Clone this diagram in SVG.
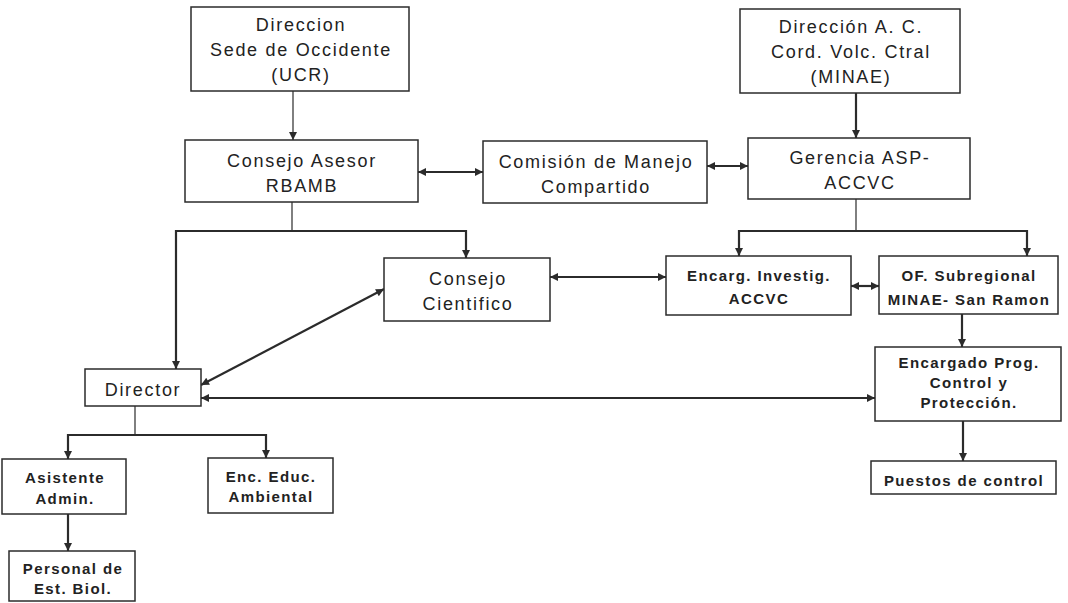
<svg xmlns="http://www.w3.org/2000/svg" width="1068" height="603" viewBox="0 0 1068 603">
<style>
.box{fill:#fff;stroke:#2b2b2b;stroke-width:1.5}
.t{font-family:"Liberation Sans",Arial,sans-serif;font-size:18px;letter-spacing:1.7px;fill:#222;text-anchor:middle}
.b{font-family:"Liberation Sans",Arial,sans-serif;font-size:15px;font-weight:bold;letter-spacing:1.4px;fill:#222;text-anchor:middle}
.c{fill:none;stroke:#2b2b2b;stroke-width:2.2}
.thin{fill:none;stroke:#2b2b2b;stroke-width:1.2}
.e{marker-end:url(#arr)}
.s{marker-start:url(#arr)}
</style>
<defs>
<marker id="arr" viewBox="0 0 10 10" refX="10" refY="5" markerWidth="9" markerHeight="8" markerUnits="userSpaceOnUse" orient="auto-start-reverse">
<path d="M0,0 L10,5 L0,10 z" fill="#2b2b2b"/>
</marker>
</defs>
<rect width="1068" height="603" fill="#fff"/>
<g id="connectors">
<line class="thin e" x1="293" y1="91" x2="293" y2="140"/>
<line class="c e" x1="856" y1="93" x2="856" y2="138"/>
<line class="c s e" x1="418" y1="172" x2="483" y2="172"/>
<line class="c s e" x1="707" y1="166" x2="748" y2="166"/>
<line class="thin" x1="292" y1="202" x2="292" y2="231"/>
<path class="c s e" d="M176,369 V231 H466 V258"/>
<line class="thin" x1="856" y1="199" x2="856" y2="231"/>
<path class="c s e" d="M739,256 V231 H1027 V256"/>
<line class="c s e" x1="550" y1="277" x2="666" y2="277"/>
<line class="c s e" x1="851" y1="286" x2="879" y2="286"/>
<line class="c s e" x1="384" y1="289" x2="201" y2="385"/>
<line class="c s e" x1="201" y1="398" x2="875" y2="398"/>
<line class="c e" x1="962" y1="314" x2="962" y2="347"/>
<line class="c e" x1="963" y1="421" x2="963" y2="461"/>
<line class="thin" x1="135" y1="406" x2="135" y2="435"/>
<path class="c s e" d="M68,459 V435 H266 V458"/>
<line class="c e" x1="68" y1="514" x2="68" y2="551"/>
</g>
<g id="n-direccion-sede">
<rect class="box" x="191" y="7" width="218" height="84"/>
<text class="t" x="301" y="30.5">Direccion</text>
<text class="t" x="301" y="55.5">Sede de Occidente</text>
<text class="t" x="301" y="80.5">(UCR)</text>
</g>
<g id="n-direccion-ac">
<rect class="box" x="740" y="9" width="220" height="84"/>
<text class="t" x="851" y="33">Dirección A. C.</text>
<text class="t" x="851" y="58">Cord. Volc. Ctral</text>
<text class="t" x="851" y="83">(MINAE)</text>
</g>
<g id="n-consejo-asesor">
<rect class="box" x="185" y="140" width="233" height="62"/>
<text class="t" x="302" y="166.5">Consejo Asesor</text>
<text class="t" x="302" y="191.5">RBAMB</text>
</g>
<g id="n-comision">
<rect class="box" x="483" y="141" width="224" height="62"/>
<text class="t" x="596" y="167.5">Comisión de Manejo</text>
<text class="t" x="596" y="192.5">Compartido</text>
</g>
<g id="n-gerencia">
<rect class="box" x="748" y="138" width="222" height="61"/>
<text class="t" x="860" y="163.5">Gerencia ASP-</text>
<text class="t" x="860" y="188.5">ACCVC</text>
</g>
<g id="n-consejo-cientifico">
<rect class="box" x="384" y="258" width="166" height="63"/>
<text class="t" x="468" y="284.5">Consejo</text>
<text class="t" x="468" y="309.5">Cientifico</text>
</g>
<g id="n-encarg-investig">
<rect class="box" x="666" y="256" width="185" height="59"/>
<text class="b" x="759" y="280.5">Encarg. Investig.</text>
<text class="b" x="759" y="303.5">ACCVC</text>
</g>
<g id="n-of-subregional">
<rect class="box" x="879" y="256" width="179" height="58"/>
<text class="b" x="969" y="280.5">OF. Subregional</text>
<text class="b" x="969" y="304.5" letter-spacing="2">MINAE- San Ramon</text>
</g>
<g id="n-encargado-prog">
<rect class="box" x="875" y="347" width="186" height="74"/>
<text class="b" x="969" y="367.5" letter-spacing="2">Encargado Prog.</text>
<text class="b" x="969" y="387.5">Control y</text>
<text class="b" x="969" y="407.5">Protección.</text>
</g>
<g id="n-puestos">
<rect class="box" x="871" y="461" width="185" height="33"/>
<text class="b" x="964" y="485.5">Puestos de control</text>
</g>
<g id="n-director">
<rect class="box" x="85" y="369" width="116" height="37"/>
<text class="t" x="143" y="395.5">Director</text>
</g>
<g id="n-asistente">
<rect class="box" x="2" y="459" width="124" height="55"/>
<text class="b" x="65" y="482.5">Asistente</text>
<text class="b" x="65" y="503.5">Admin.</text>
</g>
<g id="n-enc-educ">
<rect class="box" x="208" y="458" width="125" height="55"/>
<text class="b" x="271" y="481.5">Enc. Educ.</text>
<text class="b" x="271" y="501.5">Ambiental</text>
</g>
<g id="n-personal">
<rect class="box" x="9" y="551" width="126" height="50"/>
<text class="b" x="73" y="573.5">Personal de</text>
<text class="b" x="73" y="593.5">Est. Biol.</text>
</g>
</svg>
